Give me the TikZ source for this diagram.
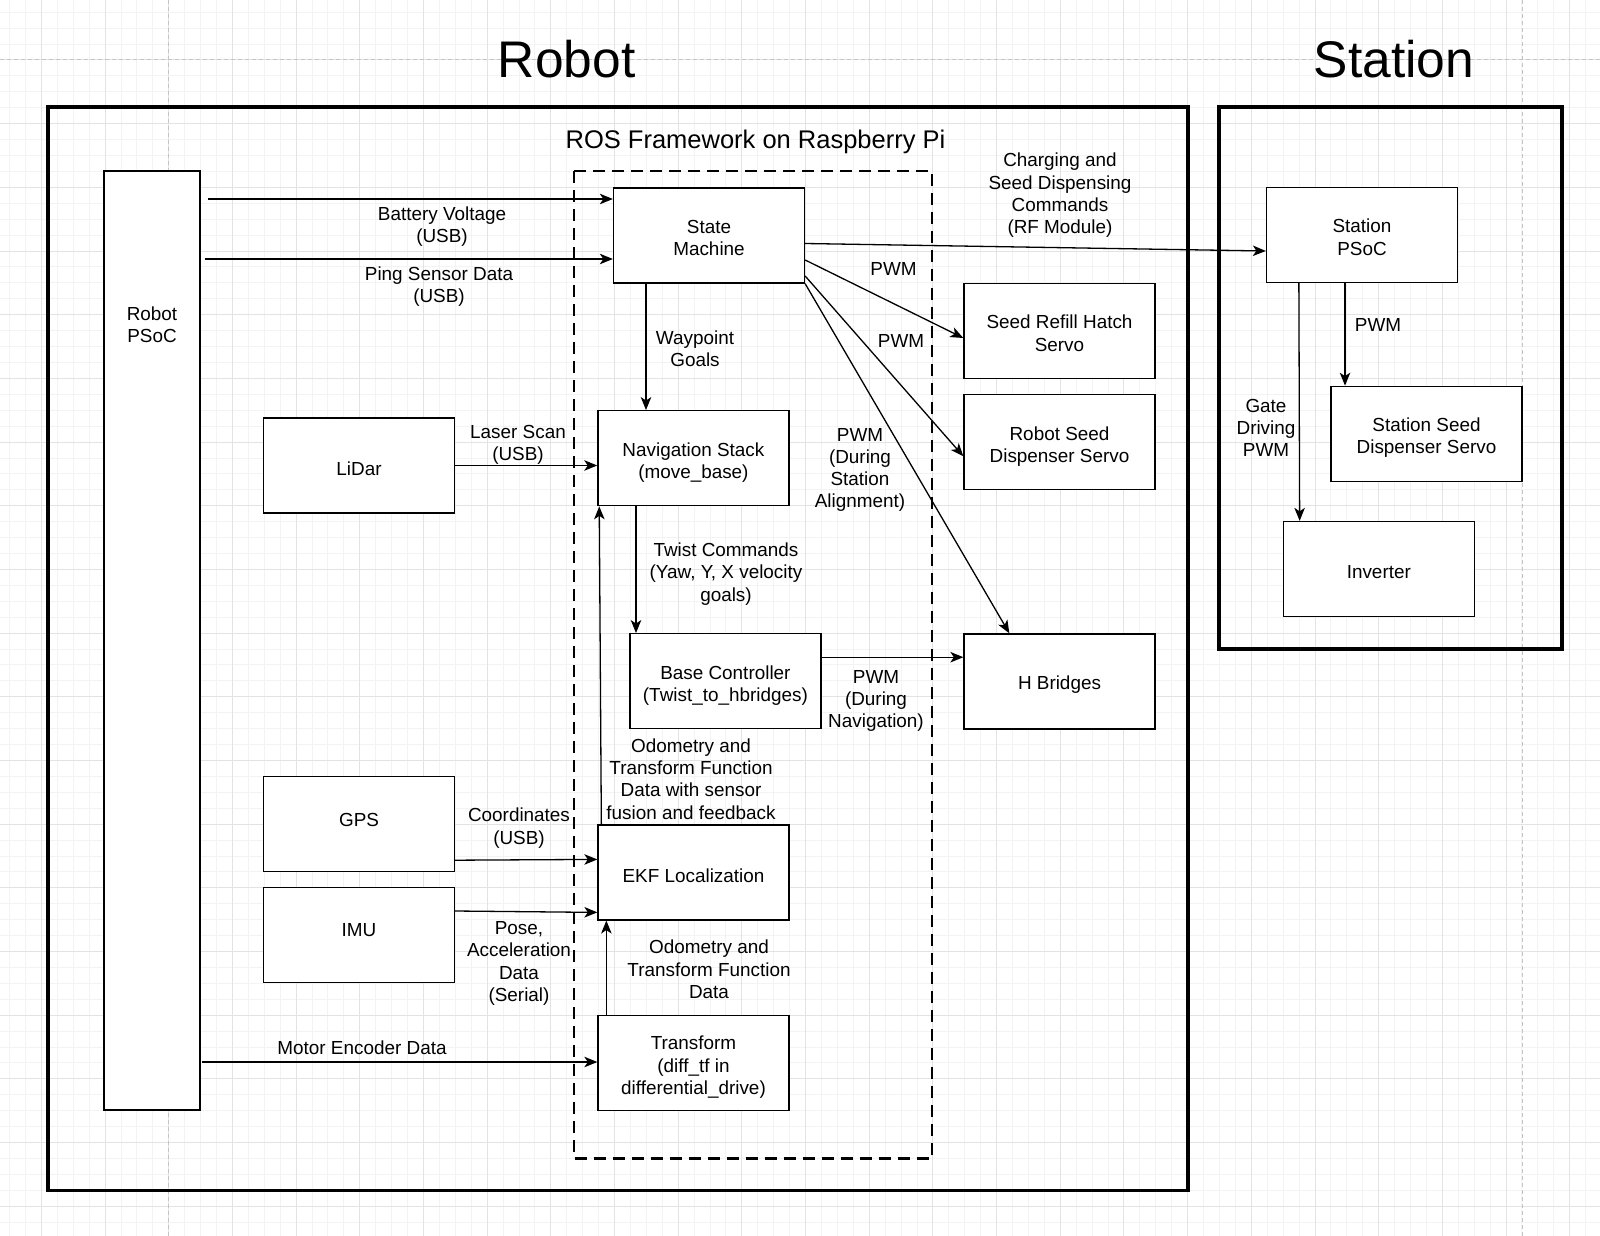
\documentclass[tikz,border=0pt]{standalone}
\usepackage{fontspec}
\setmainfont{Liberation Sans}
\usepackage{tikz}
\usetikzlibrary{arrows.meta,positioning}
\definecolor{gridminor}{HTML}{F3F3F3}
\definecolor{gridmajor}{HTML}{E3E3E3}
\definecolor{pagebreak}{HTML}{C4C4C4}
\newcommand{\lbl}{\fontsize{18.9}{22.3}\selectfont}

\begin{document}
\begin{tikzpicture}[x=1pt,y=-1pt,
    box/.style={draw,line width=1.3pt,fill=white,minimum width=191pt,minimum height=95pt,align=center,font=\lbl,
      execute at begin node={\rule{0pt}{20pt}}},
    multi/.style={text height=40.3pt,text depth=0pt},
    arr/.style={-{Stealth[length=13pt,width=10.5pt,inset=3.5pt]},line width=1.3pt},
    lab/.style={align=center,font=\lbl,inner sep=0pt}]
      \useasboundingbox (0,0) rectangle (1600,1236);
      \fill[white] (0,0) rectangle (1600,1236);
      \foreach \k in {-2,...,98}
        \draw[gridminor,line width=1pt] ({41.4+\k*15.92},0) -- ++(0,1236);
      \foreach \k in {-3,...,74}
        \draw[gridminor,line width=1pt] (0,{60+\k*15.92}) -- ++(1600,0);
      \foreach \m in {0,...,24}
        \draw[gridmajor,line width=1pt] ({41.4+\m*63.68},0) -- ++(0,1236);
      \foreach \m in {0,...,18}
        \draw[gridmajor,line width=1pt] (0,{60+\m*63.68}) -- ++(1600,0);
      \draw[pagebreak,line width=1pt,dash pattern=on 4pt off 3pt] (0,60) -- (1600,60);
      \draw[pagebreak,line width=1pt,dash pattern=on 4pt off 3pt] (168.8,0) -- (168.8,1236);
      \draw[pagebreak,line width=1pt,dash pattern=on 4pt off 3pt] (1522,0) -- (1522,1236);

      \node[font=\fontsize{51.5}{60}\selectfont] (t1) at (566.7,59.5) {Robot};
      \node[font=\fontsize{51.5}{60}\selectfont] (t2) at (1394,59.5) {Station};
      \draw[line width=3.8pt] (48,107) rectangle (1188,1190.5);
      \draw[line width=3.8pt] (1219,107) rectangle (1562,649);
      \node[font=\fontsize{25.5}{30}\selectfont] (t3) at (755.5,142) {ROS Framework on Raspberry Pi};
      \draw[line width=2.8pt,dash pattern=on 12pt off 7pt] (574,171) rectangle (932,1158.5);

      \node[box,minimum width=96pt,minimum height=939pt,
        label={[anchor=center,yshift=-154.5pt,align=center,font=\lbl]north:{Robot\\PSoC}}] (1) at (152,640.5) {};
      \node[box,multi] (2) at (709,235.5) {State\\Machine};
      \node[box,multi] (3) at (1059.5,331) {Seed Refill Hatch\\Servo};
      \node[box,multi,below=15pt of 3] (4) {Robot Seed\\Dispenser Servo};
      \node[box] (5) at (359,465.5) {LiDar};
      \node[box,multi] (6) at (693.4,458.2) {Navigation Stack\\(move\_base)};
      \node[box,multi] (7) at (725.4,681.2) {Base Controller\\(Twist\_to\_hbridges)};
      \node[box] (8) at (1059.5,681.5) {H Bridges};
      \node[box,text depth=16.1pt] (9) at (359,824.2) {GPS};
      \node[box,text depth=16.1pt,below=14.5pt of 9] (10) {IMU};
      \node[box] (11) at (693.5,872.4) {EKF Localization};
      \node[box,multi,text height=62.6pt,below=94.5pt of 11] (12) {Transform\\(diff\_tf in\\differential\_drive)};
      \node[box,multi] (13) at (1362,235) {Station\\PSoC};
      \node[box,multi] (14) at (1426.5,433.8) {Station Seed\\Dispenser Servo};
      \node[box] (15) at (1378.8,569) {Inverter};

      \coordinate (b1) at (208,199);
      \coordinate (p1) at (204.5,259);
      \coordinate (m1) at (201.7,1062);
      \draw[arr] (b1) -- (b1 -| 2.west);
      \node[lab] (l1) at (442,226.5) {Battery Voltage\\(USB)};
      \draw[arr] (p1) -- (p1 -| 2.west);
      \node[lab] (l2) at (439,286.5) {Ping Sensor Data\\(USB)};
      \draw[arr] ([yshift=-8pt]2.east) -- ([yshift=-16pt]13.west);
      \node[lab] (l3) at (1060,195.5) {Charging and\\Seed Dispensing\\Commands\\(RF Module)};
      \draw[arr] ([yshift=-24.5pt]2.east) -- ([yshift=-7pt]3.west);
      \node[lab] (l4) at (893.5,269) {PWM};
      \draw[arr] ([yshift=-40.5pt]2.east) -- ([yshift=-14pt]4.west);
      \node[lab] (l5) at (901,341) {PWM};
      \draw[arr] (2.south east) -- ([xshift=46pt]8.north west);
      \node[lab] (l6) at (860,470) {PWM\\(During\\Station\\Alignment)};
      \draw[arr] ([xshift=-63pt]2.south) -- ([xshift=-63pt]2.south |- 6.north);
      \node[lab] (l7) at (695,348.5) {Waypoint\\Goals};
      \draw[arr] (5.east) -- (5.east -| 6.west);
      \node[lab] (l8) at (518,445) {Laser Scan\\(USB)};
      \draw[arr] ([xshift=-57.4pt]6.south) -- ([xshift=-57.4pt]6.south |- 7.north);
      \node[lab] (l9) at (726,574) {Twist Commands\\(Yaw, Y, X velocity\\goals)};
      \draw[arr] ([yshift=24pt]7.east) -- ([yshift=24pt]7.east -| 8.west);
      \node[lab] (l10) at (876,701) {PWM\\(During\\Navigation)};
      \draw[arr] ([xshift=4pt]11.north west) -- ([xshift=2pt]6.south west);
      \node[lab] (l11) at (691,779) {Odometry and\\Transform Function\\Data with sensor\\fusion and feedback};
      \draw[arr] ([yshift=-36pt]9.east) -- ([yshift=13pt]11.west);
      \node[lab] (l12) at (519,828) {Coordinates\\(USB)};
      \draw[arr] ([yshift=24pt]10.east) -- ([yshift=-40pt]11.west);
      \node[lab] (l13) at (519,963.5) {Pose,\\Acceleration\\Data\\(Serial)};
      \draw[arr] ([xshift=9pt]12.north west) -- ([xshift=9pt]12.north west |- 11.south);
      \node[lab] (l14) at (709,969.5) {Odometry and\\Transform Function\\Data};
      \draw[arr] (m1) -- (m1 -| 12.west);
      \node[lab] (l15) at (362,1048) {Motor Encoder Data};
      \draw[arr] ([xshift=-17pt]13.south) -- ([xshift=-17pt]13.south |- 14.north);
      \node[lab] (l16) at (1378,324.5) {PWM};
      \draw[arr] ([xshift=33pt]13.south west) -- ([xshift=17pt]15.north west);
      \node[lab] (l17) at (1266,428) {Gate\\Driving\\PWM};
    \end{tikzpicture}
\end{document}
